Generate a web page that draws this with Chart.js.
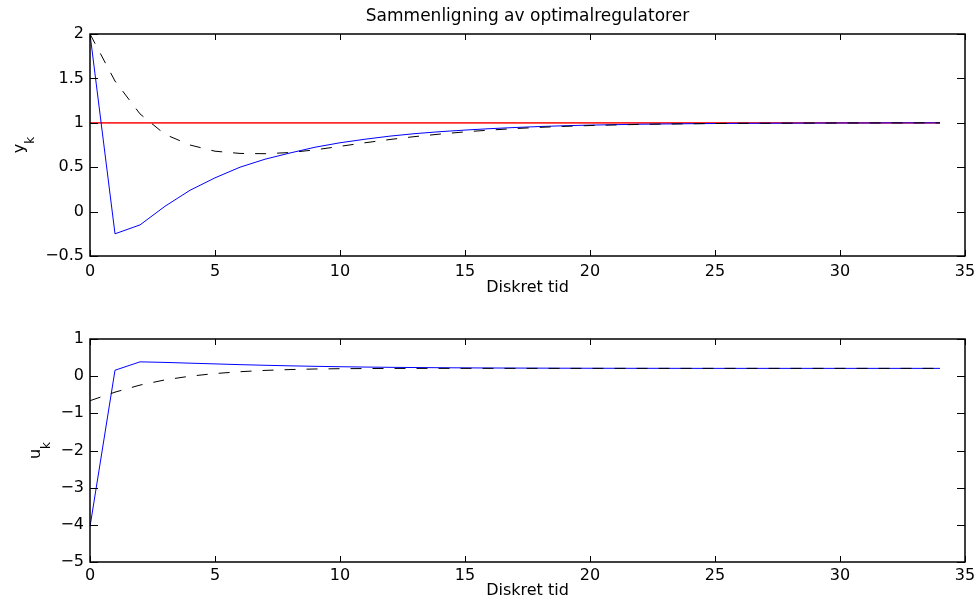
<!DOCTYPE html>
<html>
<head>
<meta charset="utf-8">
<script src="https://cdn.jsdelivr.net/npm/chart.js@4/dist/chart.umd.min.js"></script>
<style>
  body { margin: 0; background: #fff; }
  canvas { position: absolute; left: 0; }
  #top { top: 0; }
  #bottom { top: 300px; }
</style>
</head>
<body>
<canvas id="top" width="979" height="300"></canvas>
<canvas id="bottom" width="979" height="299"></canvas>
<script>
// diskret tid k = 0..34
var tid = [0, 1, 2, 3, 4, 5, 6, 7, 8, 9, 10, 11, 12, 13, 14, 15, 16, 17, 18, 19, 20,
           21, 22, 23, 24, 25, 26, 27, 28, 29, 30, 31, 32, 33, 34];

// utgang y_k
var yRef = [1, 1, 1, 1, 1, 1, 1, 1, 1, 1, 1, 1, 1, 1, 1, 1, 1, 1, 1, 1,
            1, 1, 1, 1, 1, 1, 1, 1, 1, 1, 1, 1, 1, 1, 1];
var yBlaa = [2.0, -0.25, -0.15, 0.06, 0.24, 0.38, 0.50, 0.59, 0.66, 0.725, 0.775, 0.815,
             0.85, 0.878, 0.90, 0.918, 0.934, 0.947, 0.958, 0.967, 0.974, 0.979, 0.984,
             0.987, 0.99, 0.992, 0.994, 0.995, 0.996, 0.997, 0.998, 0.998, 0.999, 0.999, 0.999];
var yStiplet = [2.0, 1.47, 1.10, 0.87, 0.75, 0.68, 0.655, 0.652, 0.665, 0.695, 0.735, 0.775,
                0.812, 0.845, 0.873, 0.898, 0.918, 0.935, 0.949, 0.96, 0.969, 0.976, 0.982,
                0.986, 0.989, 0.992, 0.994, 0.995, 0.996, 0.997, 0.998, 0.998, 0.999, 0.999, 0.999];

// paadrag u_k
var uBlaa = [-4.05, 0.16, 0.385, 0.37, 0.35, 0.33, 0.31, 0.293, 0.278, 0.265, 0.254, 0.245,
             0.238, 0.232, 0.227, 0.223, 0.22, 0.218, 0.216, 0.214, 0.213, 0.212, 0.211,
             0.211, 0.21, 0.21, 0.21, 0.21, 0.21, 0.21, 0.21, 0.21, 0.21, 0.21, 0.21];
var uStiplet = [-0.66, -0.43, -0.24, -0.10, 0.0, 0.07, 0.12, 0.155, 0.178, 0.193, 0.201, 0.205,
                0.208, 0.209, 0.21, 0.21, 0.21, 0.21, 0.21, 0.21, 0.21, 0.21, 0.21,
                0.21, 0.21, 0.21, 0.21, 0.21, 0.21, 0.21, 0.21, 0.21, 0.21, 0.21, 0.21];

var xTicks = [0, 5, 10, 15, 20, 25, 30, 35];

Chart.defaults.font.family = '"DejaVu Sans", sans-serif';
Chart.defaults.font.size = 16;
Chart.defaults.color = '#000';

function punkter(ys) {
    return tid.map(function(t, i) { return {x: t, y: ys[i]}; });
}

function minus(v) {
    return String(v).replace('-', '\u2212');
}

// matlab-aktig boks med tick-merker innover
var boks = {
    id: 'boks',
    afterDraw: function(chart) {
        var ctx = chart.ctx, a = chart.chartArea;
        var sx = chart.scales.x, sy = chart.scales.y;
        ctx.save();
        ctx.strokeStyle = '#000';
        ctx.lineWidth = 1;
        ctx.beginPath();
        sx.ticks.forEach(function(t) {
            var px = Math.round(sx.getPixelForValue(t.value)) + 0.5;
            ctx.moveTo(px, a.bottom); ctx.lineTo(px, a.bottom - 6);
            ctx.moveTo(px, a.top); ctx.lineTo(px, a.top + 6);
        });
        sy.ticks.forEach(function(t) {
            var py = Math.round(sy.getPixelForValue(t.value)) + 0.5;
            ctx.moveTo(a.left, py); ctx.lineTo(a.left + 8, py);
            ctx.moveTo(a.right, py); ctx.lineTo(a.right - 8, py);
        });
        ctx.stroke();
        ctx.lineWidth = 1.5;
        ctx.strokeRect(a.left, a.top, a.right - a.left, a.bottom - a.top);
        ctx.restore();
    }
};

// y-akse tekst med senket indeks
function aksenavn(hoved, indeks, baseX) {
    return {
        id: 'aksenavn',
        afterDraw: function(chart) {
            var ctx = chart.ctx, a = chart.chartArea;
            ctx.save();
            ctx.translate(baseX, (a.top + a.bottom) / 2);
            ctx.rotate(-Math.PI / 2);
            ctx.fillStyle = '#000';
            ctx.textBaseline = 'alphabetic';
            ctx.font = '16px "DejaVu Sans"';
            var w1 = ctx.measureText(hoved).width;
            ctx.font = '12px "DejaVu Sans"';
            var w2 = ctx.measureText(indeks).width;
            var start = -(w1 + w2) / 2;
            ctx.font = '16px "DejaVu Sans"';
            ctx.fillText(hoved, start, 0);
            ctx.font = '12px "DejaVu Sans"';
            ctx.fillText(indeks, start + w1, 10);
            ctx.restore();
        }
    };
}

function nyttPlot(id, datasets, yMin, yMax, yStep, xHoyde, tickPad, titPad, tittel, padTop, yNavn, yNavnX) {
    return new Chart(document.getElementById(id), {
        type: 'line',
        data: { datasets: datasets },
        options: {
            responsive: false,
            animation: false,
            devicePixelRatio: 1,
            layout: { padding: { left: 0, right: 14, top: padTop, bottom: 0 } },
            elements: { point: { radius: 0 }, line: { tension: 0 } },
            plugins: {
                legend: { display: false },
                tooltip: { enabled: false },
                title: tittel ? {
                    display: true,
                    fullSize: false,
                    text: tittel,
                    font: { size: 17, weight: 'normal' },
                    padding: { top: 6.8, bottom: 6.8 },
                    color: '#000'
                } : { display: false }
            },
            scales: {
                x: {
                    type: 'linear',
                    min: 0, max: 35,
                    afterBuildTicks: function(s) { s.ticks = xTicks.map(function(v) { return {value: v}; }); },
                    grid: { display: false, drawTicks: false },
                    border: { display: false },
                    ticks: { padding: tickPad, maxRotation: 0 },
                    title: {
                        display: true,
                        text: 'Diskret tid',
                        font: { size: 16, lineHeight: 1 },
                        padding: { top: 0, bottom: titPad }
                    },
                    afterFit: function(s) { s.height = xHoyde; s.paddingLeft = 0; s.paddingRight = 0; }
                },
                y: {
                    min: yMin, max: yMax,
                    ticks: { stepSize: yStep, padding: 6, callback: function(v) { return minus(v); } },
                    grid: { display: false, drawTicks: false },
                    border: { display: false },
                    afterFit: function(s) { s.width = 90; s.paddingTop = 0; s.paddingBottom = 0; }
                }
            }
        },
        plugins: [boks, aksenavn(yNavn, 'k', yNavnX)]
    });
}

var ovre = nyttPlot('top', [
    { data: punkter(yStiplet), borderColor: '#000', borderWidth: 1, borderDash: [11, 11] },
    { data: punkter(yBlaa), borderColor: '#0000ff', borderWidth: 1 },
    { data: punkter(yRef), borderColor: '#ff2a2a', borderWidth: 1.8 }
], -0.5, 2, 0.5, 44, 6, 4, 'Sammenligning av optimalregulatorer', 0, 'y', 24);

var nedre = nyttPlot('bottom', [
    { data: punkter(uStiplet), borderColor: '#000', borderWidth: 1, borderDash: [11, 11] },
    { data: punkter(uBlaa), borderColor: '#0000ff', borderWidth: 1 }
], -5, 1, 1, 37, 4.5, 0, null, 39, 'u', 40);
</script>
</body>
</html>
